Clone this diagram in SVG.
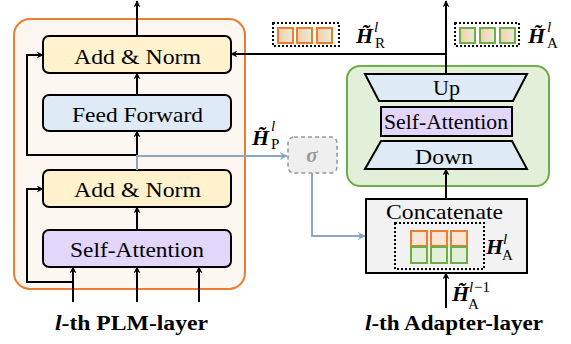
<svg xmlns="http://www.w3.org/2000/svg" width="571" height="344" viewBox="0 0 571 344">
<defs>
<marker id="ah" viewBox="0 0 10 10" refX="9" refY="5" markerWidth="7" markerHeight="7" markerUnits="userSpaceOnUse" orient="auto">
<path d="M0,0 L10,5 L0,10 L3,5 z" fill="#000"/>
</marker>
<marker id="ahg" viewBox="0 0 10 10" refX="9" refY="5" markerWidth="8" markerHeight="8" markerUnits="userSpaceOnUse" orient="auto">
<path d="M0,0 L10,5 L0,10 L3,5 z" fill="#8FA6C2"/>
</marker>
<linearGradient id="grad" x1="0" y1="0" x2="1" y2="0">
<stop offset="0" stop-color="#F8CBAD"/>
<stop offset="1" stop-color="#E2F0D9"/>
</linearGradient>
<style>
.t{font-family:"Liberation Serif","Times New Roman",serif;fill:#000;font-size:22px;}
.box{stroke:#000;stroke-width:2;}
.yel{fill:#FFF2CC;}
.blu{fill:#DEEBF7;}
.pur{fill:#E2D6FA;}
.ln{fill:none;stroke:#000;stroke-width:2;}
.gl{fill:none;stroke:#8FA6C2;stroke-width:2;}
.dot{fill:none;stroke:#000;stroke-width:2;stroke-dasharray:2 2;}
.sqo{fill:url(#grad);stroke:#ED7D31;stroke-width:2;}
.sqg{fill:url(#grad);stroke:#70AD47;stroke-width:2;}
.m{font-family:"Liberation Serif",serif;fill:#000;}
.hb{font-weight:bold;font-style:italic;font-size:22px;}
.sup{font-style:italic;font-size:15px;}
.sub{font-size:15px;}
.tl{font-family:"Liberation Serif",serif;font-weight:bold;font-size:20px;}
</style>
</defs>

<g id="plm-layer">
<rect x="14" y="19" width="231" height="270" rx="16" fill="#FDF7F2" stroke="#ED7D31" stroke-width="2"/>
</g>
<g id="adapter-layer">
<rect x="347" y="66" width="202" height="120" rx="13" fill="#E2F0D9" stroke="#70AD47" stroke-width="2"/>
</g>

<g id="add-norm-top">
<rect class="box yel" x="43" y="36" width="188" height="37" rx="6"/>
<text class="t" x="74" y="64" textLength="127" lengthAdjust="spacingAndGlyphs">Add &amp; Norm</text>
</g>
<g id="feed-forward">
<rect class="box blu" x="43" y="95" width="188" height="36" rx="6"/>
<text class="t" x="72" y="122" textLength="131" lengthAdjust="spacingAndGlyphs">Feed Forward</text>
</g>
<g id="add-norm-bottom">
<rect class="box yel" x="43" y="170" width="188" height="37" rx="6"/>
<text class="t" x="74" y="197" textLength="127" lengthAdjust="spacingAndGlyphs">Add &amp; Norm</text>
</g>
<g id="self-attention-plm">
<rect class="box pur" x="43" y="230" width="188" height="37" rx="6"/>
<text class="t" x="70" y="257" textLength="134" lengthAdjust="spacingAndGlyphs">Self-Attention</text>
</g>

<g id="up">
<polygon class="box blu" points="365,74 527,74 513,101 379,101"/>
<text class="t" x="433" y="95" textLength="27" lengthAdjust="spacingAndGlyphs">Up</text>
</g>
<g id="self-attention-adapter">
<rect class="box pur" x="381" y="107" width="131" height="29"/>
<text class="t" x="384" y="129" font-size="21" textLength="124" lengthAdjust="spacingAndGlyphs">Self-Attention</text>
</g>
<g id="down">
<polygon class="box blu" points="381,141 512,141 527,169 365,169"/>
<text class="t" x="415" y="164" textLength="58" lengthAdjust="spacingAndGlyphs">Down</text>
</g>

<g id="sigma">
<rect x="288" y="137" width="49" height="36" rx="6" fill="#EFEFEF" stroke="#999" stroke-width="1.6" stroke-dasharray="4 3"/>
<text x="312" y="162" font-family="Liberation Serif,serif" font-weight="bold" font-style="italic" font-size="21" fill="#999" text-anchor="middle">σ</text>
</g>

<g id="concatenate">
<rect x="366" y="199" width="161" height="74" fill="#F2F2F2" stroke="#000" stroke-width="2"/>
<text class="t" x="386" y="219" textLength="117" lengthAdjust="spacingAndGlyphs">Concatenate</text>
<rect class="dot" x="395" y="223" width="89" height="46"/>
<rect x="411" y="231" width="16" height="15" fill="#FBE5D6" stroke="#ED7D31" stroke-width="2"/>
<rect x="431" y="231" width="16" height="15" fill="#FBE5D6" stroke="#ED7D31" stroke-width="2"/>
<rect x="451" y="231" width="16" height="15" fill="#FBE5D6" stroke="#ED7D31" stroke-width="2"/>
<rect x="411" y="247" width="16" height="16" fill="#E2F0D9" stroke="#70AD47" stroke-width="2"/>
<rect x="431" y="247" width="16" height="16" fill="#E2F0D9" stroke="#70AD47" stroke-width="2"/>
<rect x="451" y="247" width="16" height="16" fill="#E2F0D9" stroke="#70AD47" stroke-width="2"/>
<text class="m"><tspan class="hb" x="486" y="254">H</tspan><tspan class="sup" x="503" y="244">l</tspan><tspan class="sub" x="502" y="260">A</tspan></text>
</g>

<g id="h-r">
<rect class="dot" x="273" y="23" width="66" height="23"/>
<rect class="sqo" x="278" y="28" width="15" height="15"/>
<rect class="sqo" x="297" y="28" width="15" height="15"/>
<rect class="sqo" x="317" y="28" width="15" height="15"/>
<text class="m"><tspan class="hb" x="356" y="43">H̃</tspan><tspan class="sup" x="374" y="32">l</tspan><tspan class="sub" x="375" y="48">R</tspan></text>
</g>

<g id="h-a">
<rect class="dot" x="455" y="23" width="64" height="23"/>
<rect class="sqg" x="460" y="28" width="15" height="15"/>
<rect class="sqg" x="480" y="28" width="15" height="15"/>
<rect class="sqg" x="500" y="28" width="15" height="15"/>
<text class="m"><tspan class="hb" x="528" y="43">H̃</tspan><tspan class="sup" x="547" y="32">l</tspan><tspan class="sub" x="547" y="48">A</tspan></text>
</g>

<g id="h-p">
<text class="m"><tspan class="hb" x="252" y="145">H̃</tspan><tspan class="sup" x="271" y="131">l</tspan><tspan class="sub" x="271" y="149">P</tspan></text>
</g>

<g id="h-a-prev">
<text class="m"><tspan class="hb" x="452" y="301">H̃</tspan><tspan class="sup" x="469" y="292">l</tspan><tspan class="sub" x="474" y="292">−1</tspan><tspan class="sub" x="468" y="309">A</tspan></text>
</g>

<g id="titles">
<text class="tl" x="55" y="330" textLength="153" lengthAdjust="spacingAndGlyphs"><tspan font-style="italic">l</tspan>-th PLM-layer</text>
<text class="tl" x="365" y="330" textLength="178" lengthAdjust="spacingAndGlyphs"><tspan font-style="italic">l</tspan>-th Adapter-layer</text>
</g>

<g id="connectors">
<line class="ln" x1="137" y1="36" x2="137" y2="1" marker-end="url(#ah)"/>
<line class="ln" x1="137" y1="95" x2="137" y2="73" marker-end="url(#ah)"/>
<line class="ln" x1="137" y1="155" x2="137" y2="131" marker-end="url(#ah)"/>
<line class="ln" x1="137" y1="230" x2="137" y2="207" marker-end="url(#ah)"/>
<polyline class="ln" points="137,155 27,155 27,55 43,55" marker-end="url(#ah)"/>
<line class="ln" x1="73" y1="302" x2="73" y2="267" marker-end="url(#ah)"/>
<line class="ln" x1="137" y1="302" x2="137" y2="267" marker-end="url(#ah)"/>
<line class="ln" x1="199" y1="302" x2="199" y2="267" marker-end="url(#ah)"/>
<polyline class="ln" points="73,282 27,282 27,189 43,189" marker-end="url(#ah)"/>
<polyline class="gl" points="137,170 137,156 287,156" marker-end="url(#ahg)"/>
<polyline class="gl" points="312,173 312,236 365,236" marker-end="url(#ahg)"/>
<line class="ln" x1="446" y1="74" x2="446" y2="1" marker-end="url(#ah)"/>
<polyline class="ln" points="446,54 231,54" marker-end="url(#ah)"/>
<line class="ln" x1="446" y1="199" x2="446" y2="169" marker-end="url(#ah)"/>
<line class="ln" x1="446" y1="308" x2="446" y2="273" marker-end="url(#ah)"/>
</g>
</svg>
